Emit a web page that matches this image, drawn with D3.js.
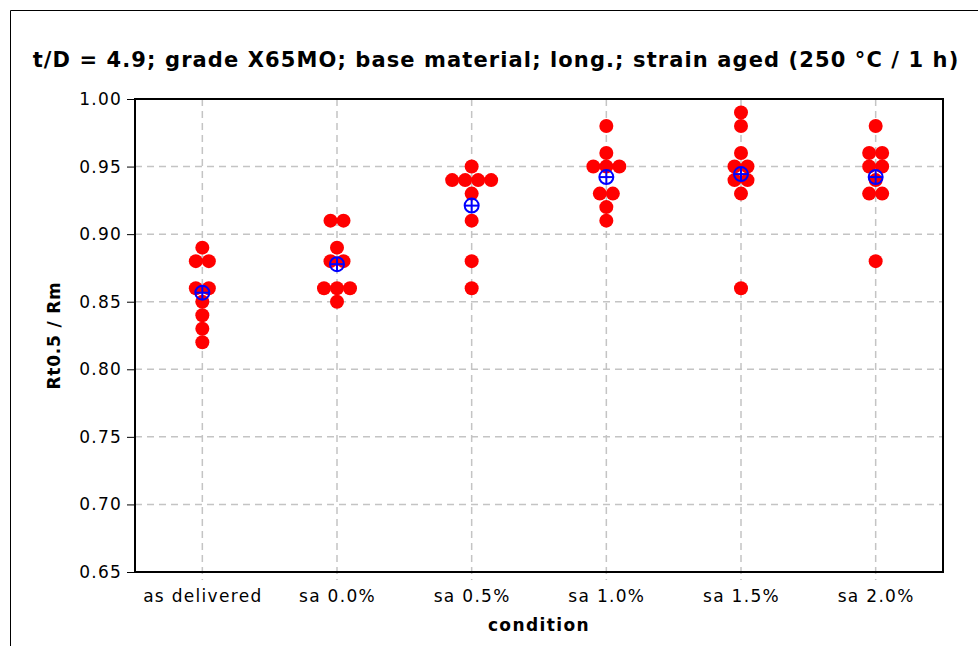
<!DOCTYPE html>
<html>
<head>
<meta charset="utf-8">
<script src="https://cdn.jsdelivr.net/npm/d3@7"></script>
<style>
  html, body { margin: 0; padding: 0; background: #fff; }
  svg { display: block; }
  text { font-family: "DejaVu Sans", Verdana, sans-serif; }
</style>
</head>
<body>
<script>
// Test conditions along the x axis
const categories = ["as delivered", "sa 0.0%", "sa 0.5%", "sa 1.0%", "sa 1.5%", "sa 2.0%"];

// Individual Rt0.5 / Rm results per condition
const ratioAsDelivered = [0.89, 0.88, 0.88, 0.86, 0.86, 0.85, 0.84, 0.83, 0.82];
const ratioSa00 = [0.91, 0.91, 0.89, 0.88, 0.88, 0.86, 0.86, 0.86, 0.85];
const ratioSa05 = [0.95, 0.94, 0.94, 0.94, 0.94, 0.93, 0.91, 0.88, 0.86];
const ratioSa10 = [0.98, 0.96, 0.95, 0.95, 0.95, 0.93, 0.93, 0.92, 0.91];
const ratioSa15 = [0.99, 0.98, 0.96, 0.95, 0.95, 0.94, 0.94, 0.93, 0.86];
const ratioSa20 = [0.98, 0.96, 0.96, 0.95, 0.95, 0.94, 0.93, 0.93, 0.88];

const yTicks = [0.65, 0.70, 0.75, 0.80, 0.85, 0.90, 0.95, 1.00];

const title = "t/D = 4.9; grade X65MO; base material; long.; strain aged (250 \u00B0C / 1 h)";
const xTitle = "condition";
const yTitle = "Rt0.5 / Rm";

const groups = [ratioAsDelivered, ratioSa00, ratioSa05, ratioSa10, ratioSa15, ratioSa20];

const W = 978, H = 646;
const margin = { left: 135, right: 35, top: 99, bottom: 74 };

const svg = d3.select("body").append("svg").attr("width", W).attr("height", H);

// outer frame
svg.append("path")
  .attr("d", `M10.5,${H + 2}V10.5H${W + 2}`)
  .attr("fill", "none").attr("stroke", "#000").attr("stroke-width", 1);

const x = d3.scalePoint().domain(categories)
  .range([margin.left, W - margin.right]).padding(0.5);
const y = d3.scaleLinear().domain([0.65, 1.00])
  .range([H - margin.bottom, margin.top]);

const plotL = margin.left, plotR = W - margin.right;
const plotT = margin.top, plotB = H - margin.bottom;

// dashed grid
const grid = svg.append("g").attr("stroke", "#c4c4c4").attr("stroke-width", 1.5)
  .attr("stroke-dasharray", "7,5");
grid.selectAll("line.h").data(yTicks.slice(1, -1)).join("line")
  .attr("x1", plotL).attr("x2", plotR)
  .attr("y1", d => y(d)).attr("y2", d => y(d));
grid.selectAll("line.v").data(categories).join("line")
  .attr("x1", d => x(d)).attr("x2", d => x(d))
  .attr("y1", plotT).attr("y2", plotB + 8);

// y axis
const yAxis = svg.append("g").attr("transform", `translate(${plotL},0)`)
  .call(d3.axisLeft(y).tickValues(yTicks).tickFormat(d3.format(".2f")).tickSizeOuter(0).tickSize(8).tickPadding(5));
yAxis.select(".domain").remove();
yAxis.selectAll(".tick line").attr("stroke", "#000");
yAxis.selectAll(".tick text").attr("font-size", 17).attr("fill", "#000")
  .attr("letter-spacing", 1.2)
  .attr("font-family", "'DejaVu Sans', sans-serif");

// x axis labels
const xAxis = svg.append("g").attr("transform", `translate(0,${plotB})`)
  .call(d3.axisBottom(x).tickSize(0).tickPadding(18));
xAxis.select(".domain").remove();
xAxis.selectAll(".tick text").attr("font-size", 17).attr("fill", "#000")
  .attr("letter-spacing", 1.3)
  .attr("font-family", "'DejaVu Sans', sans-serif");

// plot frame
svg.append("rect")
  .attr("x", plotL).attr("y", plotT)
  .attr("width", plotR - plotL).attr("height", plotB - plotT)
  .attr("fill", "none").attr("stroke", "#000").attr("stroke-width", 2);

// individual results, spread sideways when values coincide
const spacing = 13;
groups.forEach((vals, gi) => {
  const cx = x(categories[gi]);
  const byValue = d3.groups(vals, v => v);
  const pts = [];
  byValue.forEach(([v, arr]) => {
    arr.forEach((_, i) => pts.push({ v, dx: (i - (arr.length - 1) / 2) * spacing }));
  });
  svg.append("g").selectAll("circle").data(pts).join("circle")
    .attr("cx", d => cx + d.dx).attr("cy", d => y(d.v)).attr("r", 7)
    .attr("fill", "#ff0000");
});

// mean markers
groups.forEach((vals, gi) => {
  const cx = x(categories[gi]);
  const cy = y(d3.mean(vals));
  const r = 7;
  const g = svg.append("g").attr("stroke", "#0000ff").attr("stroke-width", 2).attr("fill", "none");
  g.append("circle").attr("cx", cx).attr("cy", cy).attr("r", r);
  g.append("line").attr("x1", cx - r).attr("x2", cx + r).attr("y1", cy).attr("y2", cy);
  g.append("line").attr("x1", cx).attr("x2", cx).attr("y1", cy - r).attr("y2", cy + r);
});

// titles
svg.append("text")
  .attr("x", 496).attr("y", 67).attr("text-anchor", "middle")
  .attr("font-size", 21).attr("font-weight", "bold")
  .attr("letter-spacing", 1.1).text(title);

svg.append("text")
  .attr("x", (plotL + plotR) / 2).attr("y", 631).attr("text-anchor", "middle")
  .attr("font-size", 17).attr("font-weight", "bold")
  .attr("letter-spacing", 1.4).text(xTitle);

svg.append("text")
  .attr("transform", `translate(60,${(plotT + plotB) / 2}) rotate(-90)`)
  .attr("text-anchor", "middle")
  .attr("font-size", 17).attr("font-weight", "bold")
  .attr("letter-spacing", 0.8).text(yTitle);
</script>
</body>
</html>
